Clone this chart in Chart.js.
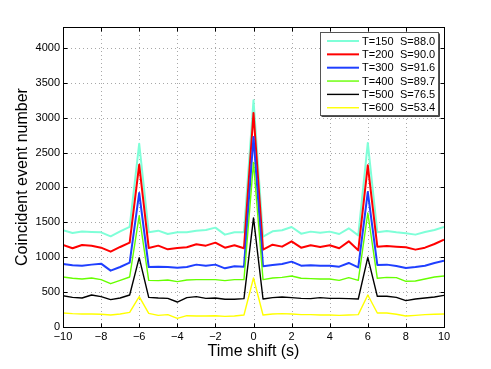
<!DOCTYPE html>
<html>
<head>
<meta charset="utf-8">
<script src="https://cdn.jsdelivr.net/npm/chart.js@4.4.0/dist/chart.umd.min.js"></script>
<style>
html,body{margin:0;padding:0;background:#fff;}
canvas{display:block;}
</style>
</head>
<body>
<canvas id="c" width="491" height="369"></canvas>
<script>
const times = [-10,-9.5,-9,-8.5,-8,-7.5,-7,-6.5,-6,-5.5,-5,-4.5,-4,-3.5,-3,-2.5,-2,-1.5,-1,-0.5,0,0.5,1,1.5,2,2.5,3,3.5,4,4.5,5,5.5,6,6.5,7,7.5,8,8.5,9,9.5,10];
const t150 = [1386,1348,1370,1362,1357,1300,1370,1434,2628,1357,1381,1333,1357,1357,1381,1391,1424,1324,1357,1357,3250,1295,1372,1386,1434,1338,1367,1352,1367,1333,1415,1314,2638,1357,1376,1357,1343,1324,1362,1391,1434];
const t200 = [1176,1128,1176,1166,1137,1080,1147,1209,2327,1133,1166,1113,1133,1142,1185,1166,1209,1137,1171,1128,3068,1109,1180,1152,1228,1137,1171,1147,1171,1128,1228,1099,2318,1152,1161,1152,1142,1109,1137,1190,1252];
const t300 = [903,884,879,894,908,808,860,922,1921,860,865,860,851,860,894,879,894,841,870,865,2724,870,889,903,937,879,884,879,879,865,918,855,1935,889,894,875,846,860,879,918,951];
const t400 = [717,698,688,703,679,621,669,717,1596,669,664,674,650,674,679,679,679,664,679,679,2360,679,703,712,731,698,693,688,688,669,707,669,1634,698,712,707,655,660,688,717,731];
const t500 = [449,425,416,459,435,392,416,459,994,425,416,411,358,421,435,411,416,397,397,406,1563,401,421,430,421,411,406,421,411,411,406,401,999,440,440,425,378,401,416,430,454];
const t600 = [201,191,186,186,182,172,186,210,435,196,167,177,124,162,158,158,162,153,158,172,703,172,186,191,186,177,177,172,172,167,172,177,459,201,201,182,158,167,177,182,186];
const seriesT = ['T=150','T=200','T=300','T=400','T=500','T=600'];
const seriesS = ['S=88.0','S=90.0','S=91.6','S=89.7','S=76.5','S=53.4'];
const seriesValues = [t150,t200,t300,t400,t500,t600];
const seriesColors = ['#7fffd8','#ff0000','#1f3fff','#66ff00','#000000','#ffff00'];
const seriesWidths = [2,2,2,1.4,1.4,1.4];
const xTicks = [-10,-8,-6,-4,-2,0,2,4,6,8,10];
const yTicks = [0,500,1000,1500,2000,2500,3000,3500,4000];

const FONT = "'Liberation Sans', Arial, Helvetica, sans-serif";

const gridPlugin = {
  id: 'gridPlugin',
  beforeDatasetsDraw(chart) {
    const ctx = chart.ctx;
    const a = chart.chartArea;
    const xs = chart.scales.x, ys = chart.scales.y;
    ctx.save();
    ctx.strokeStyle = '#a8a8a8';
    ctx.lineWidth = 1;
    ctx.setLineDash([1, 3]);
    ctx.beginPath();
    xTicks.forEach(v => {
      const px = Math.round(xs.getPixelForValue(v))+0.5;
      ctx.moveTo(px, a.top); ctx.lineTo(px, a.bottom);
    });
    yTicks.forEach(v => {
      const py = Math.round(ys.getPixelForValue(v))+0.5;
      ctx.moveTo(a.left, py); ctx.lineTo(a.right, py);
    });
    ctx.stroke();
    ctx.restore();
  },
  afterDatasetsDraw(chart) {
    const ctx = chart.ctx;
    const a = chart.chartArea;
    const xs = chart.scales.x, ys = chart.scales.y;
    ctx.save();
    ctx.strokeStyle = '#000';
    ctx.lineWidth = 1;
    ctx.setLineDash([]);
    const L = Math.round(a.left)+0.5, R = Math.round(a.right)+0.5, T = Math.round(a.top)+0.5, B = Math.round(a.bottom)+0.5;
    ctx.strokeRect(L, T, R-L, B-T);
    const tl = 4;
    ctx.beginPath();
    xTicks.forEach(v => {
      const px = Math.round(xs.getPixelForValue(v))+0.5;
      ctx.moveTo(px, B); ctx.lineTo(px, B-tl);
      ctx.moveTo(px, T); ctx.lineTo(px, T+tl);
    });
    yTicks.forEach(v => {
      const py = Math.round(ys.getPixelForValue(v))+0.5;
      ctx.moveTo(L, py); ctx.lineTo(L+tl, py);
      ctx.moveTo(R, py); ctx.lineTo(R-tl, py);
    });
    ctx.stroke();

    // legend
    const lx = 320.5, ly = 32.5, lw = 118, lh = 83;
    ctx.fillStyle = '#fff';
    ctx.fillRect(lx, ly, lw, lh);
    ctx.strokeStyle = '#555';
    ctx.lineWidth = 1;
    ctx.strokeRect(lx, ly, lw, lh);
    ctx.beginPath();
    ctx.moveTo(lx+1, ly+lh+1); ctx.lineTo(lx+lw+1, ly+lh+1); ctx.lineTo(lx+lw+1, ly+1);
    ctx.strokeStyle = '#444';
    ctx.stroke();
    ctx.font = '11px ' + FONT;
    ctx.textBaseline = 'middle';
    ctx.textAlign = 'left';
    for (let i = 0; i < seriesT.length; i++) {
      const y = 41 + i*13.35;
      ctx.beginPath();
      ctx.strokeStyle = seriesColors[i];
      ctx.lineWidth = seriesWidths[i];
      ctx.moveTo(327, y); ctx.lineTo(359, y);
      ctx.stroke();
      ctx.fillStyle = '#000';
      ctx.fillText(seriesT[i], 362, y+0.5);
      ctx.fillText(seriesS[i], 400, y+0.5);
    }
    ctx.restore();
  }
};

const datasets = seriesValues.map((vals, i) => ({
  label: seriesT[i] + '  ' + seriesS[i],
  data: times.map((t, j) => ({x: t, y: vals[j]})),
  borderColor: seriesColors[i],
  backgroundColor: seriesColors[i],
  borderWidth: seriesWidths[i],
  pointRadius: 0,
  tension: 0,
  fill: false,
  borderJoinStyle: 'round',
  order: seriesT.length - i
}));

new Chart(document.getElementById('c'), {
  type: 'line',
  data: { datasets },
  options: {
    responsive: false,
    animation: false,
    devicePixelRatio: 1,
    layout: { padding: { left: 0, top: 27, right: 47, bottom: 0 } },
    plugins: { legend: { display: false }, tooltip: { enabled: false } },
    scales: {
      x: {
        type: 'linear',
        min: -10, max: 10,
        afterFit(s) { s.height = 42; },
        afterBuildTicks(s) { s.ticks = xTicks.map(v => ({value: v})); },
        ticks: {
          padding: 3,
          color: '#000',
          font: { family: FONT, size: 11 },
          maxRotation: 0,
          callback: v => String(v).replace('-', '\u2212')
        },
        grid: { display: false, drawTicks: false },
        border: { display: false },
        title: {
          display: true,
          text: 'Time shift (s)',
          color: '#000',
          font: { family: FONT, size: 16 },
          padding: { top: 0, bottom: 7.5 }
        }
      },
      y: {
        type: 'linear',
        min: 0, max: 4300,
        afterFit(s) { s.width = 63; },
        afterBuildTicks(s) { s.ticks = yTicks.map(v => ({value: v})); },
        ticks: {
          padding: 3,
          color: '#000',
          font: { family: FONT, size: 11 },
          callback: v => String(v)
        },
        grid: { display: false, drawTicks: false },
        border: { display: false },
        title: {
          display: true,
          text: 'Coincident event number',
          color: '#000',
          font: { family: FONT, size: 16 },
          padding: { top: 13, bottom: 0 }
        }
      }
    }
  },
  plugins: [gridPlugin]
});
</script>
</body>
</html>
